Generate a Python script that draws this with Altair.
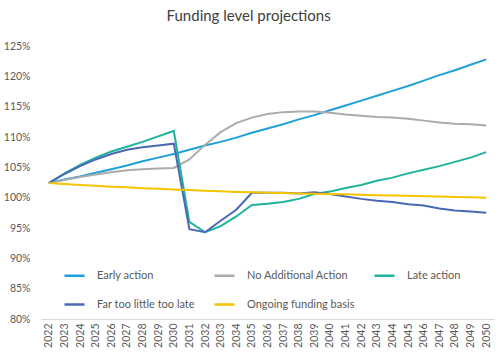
import altair as alt
import pandas as pd

years = [str(y) for y in range(2022, 2051)]

early_action = [102.4, 103.0, 103.5, 104.1, 104.7, 105.3, 106.0, 106.6, 107.2, 107.9,
                108.6, 109.2, 109.9, 110.7, 111.4, 112.1, 112.9, 113.6, 114.4, 115.2,
                116.0, 116.8, 117.6, 118.4, 119.3, 120.2, 121.0, 121.9, 122.8]
no_additional = [102.4, 102.9, 103.4, 103.8, 104.2, 104.5, 104.7, 104.8, 104.9, 106.3,
                 108.7, 110.8, 112.3, 113.2, 113.8, 114.1, 114.2, 114.2, 114.0, 113.7,
                 113.5, 113.3, 113.2, 113.0, 112.7, 112.4, 112.2, 112.1, 111.9]
late_action = [102.4, 104.0, 105.4, 106.6, 107.6, 108.4, 109.2, 110.1, 111.0, 96.0,
               94.3, 95.3, 96.9, 98.8, 99.0, 99.3, 99.8, 100.6, 101.0, 101.6,
               102.1, 102.8, 103.3, 104.0, 104.6, 105.2, 105.9, 106.6, 107.5]
far_too_little = [102.4, 103.9, 105.2, 106.3, 107.2, 107.9, 108.3, 108.6, 108.9, 94.8,
                  94.3, 96.2, 98.0, 100.8, 100.8, 100.8, 100.7, 100.9, 100.6, 100.2,
                  99.8, 99.5, 99.3, 98.9, 98.7, 98.2, 97.9, 97.7, 97.5]
ongoing_basis = [102.4, 102.25, 102.1, 101.95, 101.8, 101.7, 101.55, 101.45, 101.35, 101.25,
                 101.15, 101.05, 100.95, 100.9, 100.8, 100.75, 100.7, 100.65, 100.6, 100.55,
                 100.5, 100.4, 100.35, 100.3, 100.25, 100.2, 100.1, 100.05, 100.0]

series_names = ["Early action", "No Additional Action", "Late action",
                "Far too little too late", "Ongoing funding basis"]
series_values = [early_action, no_additional, late_action, far_too_little, ongoing_basis]
series_colors = ["#1fa0d8", "#ababab", "#1fb39c", "#4a68b5", "#f5c400"]

# legend is filled column by column (2 rows), so order entries to read row-wise as in the reference
legend_order = ["Early action", "Far too little too late", "No Additional Action",
                "Ongoing funding basis", "Late action"]
legend_colors = [series_colors[series_names.index(n)] for n in legend_order]

rows = []
for name, vals in zip(series_names, series_values):
    for y, v in zip(years, vals):
        rows.append({"Year": y, "Value": v, "Series": name})
df = pd.DataFrame(rows)

font = "Lato"

chart = alt.Chart(df).mark_line(strokeWidth=2).encode(
    x=alt.X("Year:O", scale=alt.Scale(type="point", padding=0.5),
            axis=alt.Axis(title=None, labelAngle=270, ticks=False, domainColor="#d9d9d9",
                          labelFontSize=10.5, labelColor="#595959", labelPadding=4,
                          labelFont=font, labelBaseline="middle")),
    y=alt.Y("Value:Q", scale=alt.Scale(domain=[80, 125], nice=False, zero=False),
            axis=alt.Axis(title=None, values=list(range(80, 130, 5)), labelExpr="datum.value + '%'",
                          grid=False, domain=False, ticks=False, labelPadding=11,
                          labelFontSize=10.5, labelColor="#595959", labelFont=font)),
    color=alt.Color("Series:N", sort=legend_order,
                    scale=alt.Scale(domain=legend_order, range=legend_colors),
                    legend=alt.Legend(title=None, orient="none", legendX=22, legendY=218,
                                      columns=3, symbolType="stroke", symbolSize=400,
                                      symbolStrokeWidth=2.5, labelFontSize=11,
                                      labelColor="#595959", labelFont=font, labelOffset=11,
                                      columnPadding=14, rowPadding=12, gridAlign="each",
                                      padding=0)),
).properties(
    width=453, height=273,
    title=alt.TitleParams("Funding level projections", fontSize=15, font=font,
                          fontWeight="normal", color="#404040", anchor="middle",
                          frame="bounds", offset=17),
    autosize=alt.AutoSizeParams(type="none"),
    padding={"left": 41, "top": 46, "right": 6, "bottom": 34},
).configure_view(stroke=None)

chart.save("out.html", embed_options={"renderer": "svg", "actions": False})
